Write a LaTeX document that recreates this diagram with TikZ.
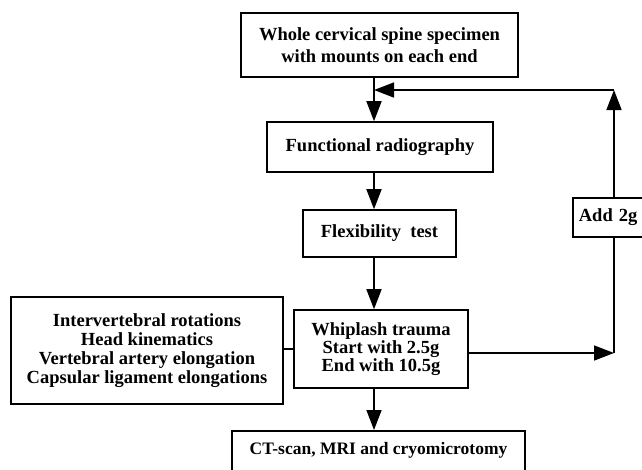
\documentclass[tikz,border=0pt]{standalone}
\usepackage{fontspec}
\setmainfont{Liberation Serif}
\usetikzlibrary{arrows.meta}
\begin{document}
\begin{tikzpicture}[x=1pt,y=-1pt,
  box/.style={draw,line width=1.6pt,inner sep=0pt,align=center,font=\bfseries\fontsize{18.5}{19}\selectfont},
  conn/.style={line width=1.6pt},
  arr/.style={conn,-{Triangle[length=20pt,width=15pt]}}]
\useasboundingbox (0,0) rectangle (642,469);
\begin{scope}
\clip (0,0) rectangle (642,469);
\node[box,minimum width=277pt,minimum height=64pt,font=\bfseries\fontsize{18.5}{22}\selectfont] (top) at (379.5,45) {Whole cervical spine specimen\\with mounts on each end};
\node[box,minimum width=226pt,minimum height=50pt] (func) at (380,147) {Functional radiography};
\node[box,minimum width=153pt,minimum height=47pt] (flex) at (379.5,233.5) {Flexibility\ \ test};
\node[box,minimum width=174pt,minimum height=78pt,font=\bfseries\fontsize{18.5}{18}\selectfont] (whip) at (381,349) {Whiplash trauma\\Start with 2.5g\\End with 10.5g};
\node[box,minimum width=272pt,minimum height=107pt] (left) at (147,350.5) {Intervertebral rotations\\Head kinematics\\Vertebral artery elongation\\Capsular ligament elongations};
\node[box,minimum width=76pt,minimum height=39pt,anchor=west,text width=70pt,align=left] (add) at (572,217.5) {\,Add 2g};
\node[box,minimum width=293pt,minimum height=60pt,anchor=north] (ct) at (378.5,430) {};
\node[font=\bfseries\fontsize{17.5}{19}\selectfont] (cttext) at (378.5,450) {CT-scan, MRI and cryomicrotomy};
\end{scope}
\coordinate (join) at (374,90);
\coordinate (cornerT) at (614,90);
\coordinate (cornerB) at (614,353);
\draw[arr] (top.south -| join) -- (func.north -| join);
\draw[arr] (func.south -| join) -- (flex.north -| join);
\draw[arr] (flex.south -| join) -- (whip.north -| join);
\draw[arr] (whip.south -| join) -- (ct.north -| join);
\draw[conn] (left.east |- whip.west) -- (whip.west);
\draw[arr] (whip.east |- cornerB) -- (cornerB);
\draw[conn] (cornerB) -- (add.south -| cornerB);
\draw[arr] (add.north -| cornerT) -- (cornerT);
\draw[arr] (cornerT) -- (join);
\end{tikzpicture}
\end{document}
